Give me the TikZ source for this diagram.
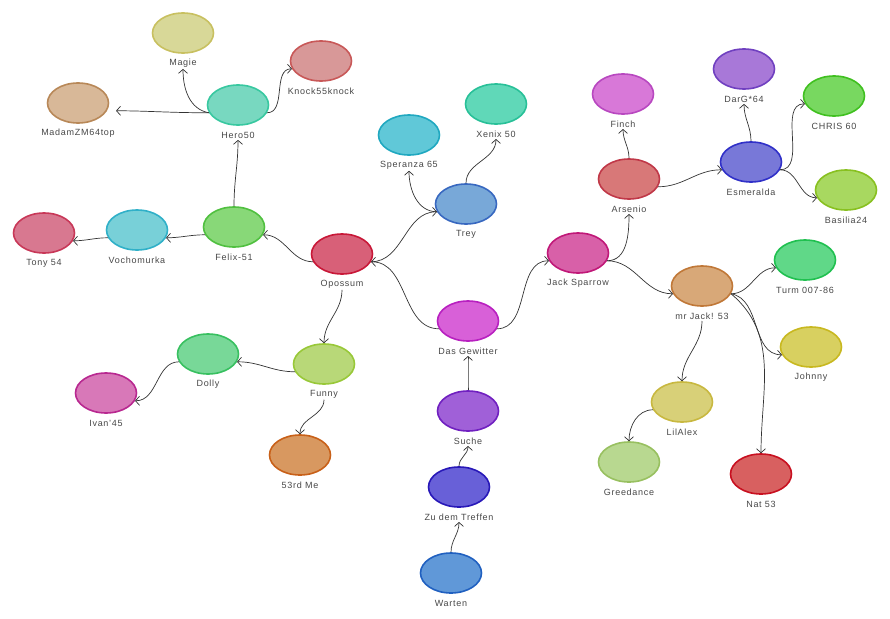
\documentclass[tikz,border=0pt]{standalone}
\usepackage{fontspec}
\setmainfont{Liberation Sans}[LetterSpace=8]
\usetikzlibrary{shapes.geometric,arrows.meta}
\tikzset{
  pers/.style={ellipse, minimum width=61pt, minimum height=40pt, inner sep=0pt, line width=1.6pt},
  lbl/.style={font=\fontsize{9}{10}\selectfont, text=black!72, inner sep=1.5pt},
  link/.style={draw=black!80, line width=0.7pt, -{Straight Barb[length=4pt,width=9pt]}},
}
\newcommand\pnode[6]{%
  \definecolor{#1F}{HTML}{#4}\definecolor{#1D}{HTML}{#5}%
  \node[pers, fill=#1F, draw=#1D] (#1) at (#2,#3) {};
  \node[lbl] (#1L) at (#2,#3+30) {#6};}
\begin{document}
\begin{tikzpicture}[x=1pt,y=-1pt]
\useasboundingbox (0,0) rectangle (890,618);
\pnode{magie}{183}{33}{D8D898}{C8C060}{Magie}
\pnode{knock}{321}{61}{D89898}{C85858}{Knock55knock}
\pnode{madam}{78}{103}{D8B898}{B88858}{MadamZM64top}
\pnode{hero}{238}{105}{78D8C0}{38C8A0}{Hero50}
\pnode{speranza}{409}{135}{60C8D8}{20A8C0}{Speranza 65}
\pnode{xenix}{496}{104}{60D8B8}{28C098}{Xenix 50}
\pnode{trey}{466}{204}{78A8D8}{3868C0}{Trey}
\pnode{tony}{44}{233}{D87890}{C83858}{Tony 54}
\pnode{voch}{137}{230}{78D0D8}{30B0C8}{Vochomurka}
\pnode{felix}{234}{227}{88D878}{50C040}{Felix-51}
\pnode{opossum}{342}{254}{D86078}{C81838}{Opossum}
\pnode{finch}{623}{94}{D878D8}{B848C0}{Finch}
\pnode{arsenio}{629}{179}{D87878}{C03848}{Arsenio}
\pnode{darg}{744}{69}{A878D8}{7040C0}{DarG*64}
\pnode{esm}{751}{162}{7878D8}{3030C8}{Esmeralda}
\pnode{chris}{834}{96}{78D860}{40C020}{CHRIS 60}
\pnode{basilia}{846}{190}{A8D860}{88C020}{Basilia24}
\pnode{jack}{578}{253}{D860A8}{C01878}{Jack Sparrow}
\pnode{turm}{805}{260}{60D888}{20C050}{Turm 007-86}
\pnode{mrjack}{702}{286}{D8A878}{C07838}{mr Jack! 53}
\pnode{johnny}{811}{347}{D8D060}{C8B820}{Johnny}
\pnode{gewitter}{468}{321}{D860D8}{B820C0}{Das Gewitter}
\pnode{dolly}{208}{354}{78D898}{38C060}{Dolly}
\pnode{funny}{324}{364}{B8D878}{98C838}{Funny}
\pnode{ivan}{106}{393}{D878B8}{B82890}{Ivan'45}
\pnode{lilalex}{682}{402}{D8D078}{C8B840}{LilAlex}
\pnode{suche}{468}{411}{A060D8}{7020C0}{Suche}
\pnode{third}{300}{455}{D89860}{C86018}{53rd Me}
\pnode{greed}{629}{462}{B8D890}{98C060}{Greedance}
\pnode{nat}{761}{474}{D86060}{C81020}{Nat 53}
\pnode{zdt}{459}{487}{6860D8}{2818B8}{Zu dem Treffen}
\pnode{warten}{451}{573}{6098D8}{2060C0}{Warten}
% connectors
\draw[link] (hero.195) to[out=170,in=-90] (magieL.south);
\draw[link, shorten >=9pt] (hero.195) to[out=180,in=0] (madam.-15);
\draw[link] (hero.-15) to[out=0,in=180] (knock.195);
\draw[link] (felix.north) to[out=90,in=-90] (heroL.south);
\draw[link] (opossum.195) to[out=180,in=0] (felix.-15);
\draw[link] (felix.195) to[out=180,in=0] (voch.-15);
\draw[link] (voch.195) to[out=180,in=0] (tony.-15);
\draw[link] (opossumL.south) to[out=-90,in=90] (funny.north);
\draw[link] (funny.195) to[out=180,in=0] (dolly.-15);
\draw[link] (dolly.195) to[out=180,in=0] (ivan.-15);
\draw[link] (funnyL.south) to[out=-90,in=90] (third.north);
\draw[link] (gewitter.195) to[out=180,in=0] (opossum.-15);
\draw[link] (opossum.-15) to[out=0,in=180] (trey.195);
\draw[link] (trey.195) to[out=180,in=-90] (speranzaL.south);
\draw[link] (trey.north) to[out=90,in=-90] (xenixL.south);
\draw[link] (gewitter.-15) to[out=0,in=180] (jack.195);
\draw[link] (jack.-15) to[out=0,in=-90] (arsenioL.south);
\draw[link] (arsenio.north) to[out=90,in=-90] (finchL.south);
\draw[link] (arsenio.-15) to[out=0,in=180] (esm.195);
\draw[link] (esm.north) to[out=90,in=-90] (dargL.south);
\draw[link] (esm.-15) to[out=0,in=180] (chris.195);
\draw[link] (esm.-15) to[out=0,in=180] (basilia.195);
\draw[link] (jack.-15) to[out=0,in=180] (mrjack.195);
\draw[link] (mrjack.-15) to[out=0,in=180] (turm.195);
\draw[link] (mrjack.-15) to[out=-10,in=180] (johnny.195);
\draw[link] (mrjack.-15) to[out=-40,in=90] (nat.north);
\draw[link] (mrjackL.south) to[out=-90,in=90] (lilalex.north);
\draw[link] (lilalex.195) to[out=180,in=90] (greed.north);
\draw[link] (suche.north) to[out=90,in=-90] (gewitterL.south);
\draw[link] (zdt.north) to[out=90,in=-90] (sucheL.south);
\draw[link] (warten.north) to[out=90,in=-90] (zdtL.south);
\end{tikzpicture}
\end{document}
